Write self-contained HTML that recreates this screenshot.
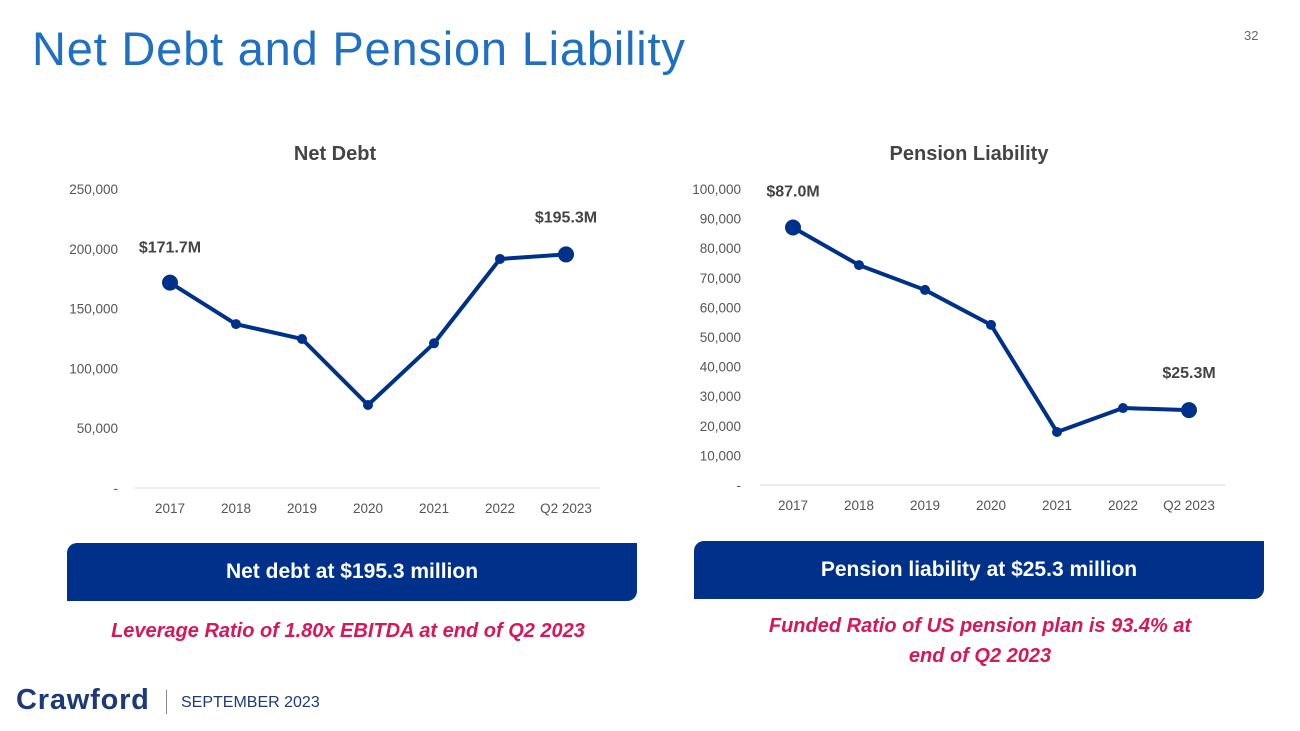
<!DOCTYPE html>
<html><head><meta charset="utf-8">
<style>
html,body{margin:0;padding:0;background:#fff;}
body{width:1300px;height:731px;position:relative;overflow:hidden;font-family:"Liberation Sans",sans-serif;}
.abs{position:absolute;}
#title{left:32px;top:21px;font-size:47px;letter-spacing:0.8px;color:#1f6fc5;white-space:nowrap;}
#pg{left:1244px;top:28px;font-size:13px;color:#666;}
.banner{background:#00318a;color:#fff;font-weight:bold;font-size:21px;text-align:center;line-height:58px;border-radius:10px 0 10px 0;}
.note{color:#d6175a;font-style:italic;font-weight:bold;font-size:20px;text-align:center;line-height:30px;}
#logo{left:16px;top:684px;font-size:29px;font-weight:bold;color:#1c3a78;letter-spacing:0.8px;}
#sep{left:166px;top:690px;width:1px;height:24px;background:#888;}
#date{left:181px;top:694px;font-size:16px;color:#1c3a78;}
svg text{font-family:"Liberation Sans",sans-serif;}
</style></head>
<body>
<div id="title" class="abs">Net Debt and Pension Liability</div>
<div id="pg" class="abs">32</div>
<svg id="chart" class="abs" style="left:0;top:0" width="1300" height="540"></svg>
<div class="abs banner" style="left:67px;top:543px;width:570px;height:58px;">Net debt at $195.3 million</div>
<div class="abs banner" style="left:694px;top:541px;width:570px;height:58px;">Pension liability at $25.3 million</div>
<div class="abs note" style="left:60px;top:616px;width:576px;">Leverage Ratio of 1.80x EBITDA at end of Q2 2023</div>
<div class="abs note" style="left:700px;top:611px;width:560px;">Funded Ratio of US pension plan is 93.4% at<br>end of Q2 2023</div>
<div id="logo" class="abs">Crawford</div>
<div id="sep" class="abs"></div>
<div id="date" class="abs">SEPTEMBER 2023</div>
<script>
const categories = ["2017","2018","2019","2020","2021","2022","Q2 2023"];
const netDebt = [171700,137000,124600,69400,121000,191500,195300];
const pension = [87000,74300,65900,54100,17900,26000,25300];
const netDebtTicks = [0,50000,100000,150000,200000,250000];
const pensionTicks = [0,10000,20000,30000,40000,50000,60000,70000,80000,90000,100000];
const netDebtLabels = ["$171.7M","$195.3M"];
const pensionLabels = ["$87.0M","$25.3M"];

const NS="http://www.w3.org/2000/svg";
const svg=document.getElementById('chart');
function el(tag,attrs,text){const e=document.createElementNS(NS,tag);for(const k in attrs)e.setAttribute(k,attrs[k]);if(text!==undefined)e.textContent=text;svg.appendChild(e);return e;}
function fmt(v){return v===0?"-":v.toLocaleString('en-US');}

function drawChart(cfg){
  const {x0,dx,y0,yTop,max,ticks,vals,title,titleX,axisL,axisR,yLabX,labels,prefix,labelPos}=cfg;
  const X=i=>x0+i*dx;
  const Y=v=>y0-(v/max)*(y0-yTop);
  let t=el('text',{x:titleX,y:160,'text-anchor':'middle','font-size':20,'font-weight':'bold',fill:'#444'},title);
  
  
  let ax=el('line',{x1:axisL,x2:axisR,y1:y0,y2:y0,stroke:'#d9d9d9','stroke-width':1});
  
  
  ticks.forEach(v=>{
    const tt=el('text',{x:yLabX,y:Y(v)+5,'text-anchor':'end','font-size':13.5,fill:'#555'},fmt(v));
    
    
  });
  categories.forEach((c,i)=>{
    const tt=el('text',{x:X(i),y:y0+25,'text-anchor':'middle','font-size':13.5,fill:'#555'},c);
    
    
  });
  const pts=vals.map((v,i)=>X(i)+','+Y(v)).join(' ');
  const pl=el('polyline',{points:pts,fill:'none',stroke:'#00318a','stroke-width':4,'stroke-linejoin':'round'});
  
  
  vals.forEach((v,i)=>{
    const big=(i===0||i===vals.length-1);
    const c=el('circle',{cx:X(i),cy:Y(v),r:big?8:5,fill:'#00318a'});
    
    
  });
  const idx=[0,vals.length-1];
  idx.forEach((i,k)=>{
    const lt=el('text',{x:X(i)+labelPos[k][0],y:Y(vals[i])+labelPos[k][1],'text-anchor':'middle','font-size':16,'font-weight':'bold',fill:'#444'},labels[k]);
    
    
  });
}
drawChart({x0:170,dx:66,y0:488,yTop:189,max:250000,ticks:netDebtTicks,vals:netDebt,title:"Net Debt",titleX:335,axisL:135,axisR:600,yLabX:118,labels:netDebtLabels,prefix:'net-debt',labelPos:[[0,-30],[0,-32]]});
drawChart({x0:793,dx:66,y0:485,yTop:189,max:100000,ticks:pensionTicks,vals:pension,title:"Pension Liability",titleX:969,axisL:760,axisR:1225,yLabX:741,labels:pensionLabels,prefix:'pension',labelPos:[[0,-31],[0,-32]]});
</script>
</body></html>
